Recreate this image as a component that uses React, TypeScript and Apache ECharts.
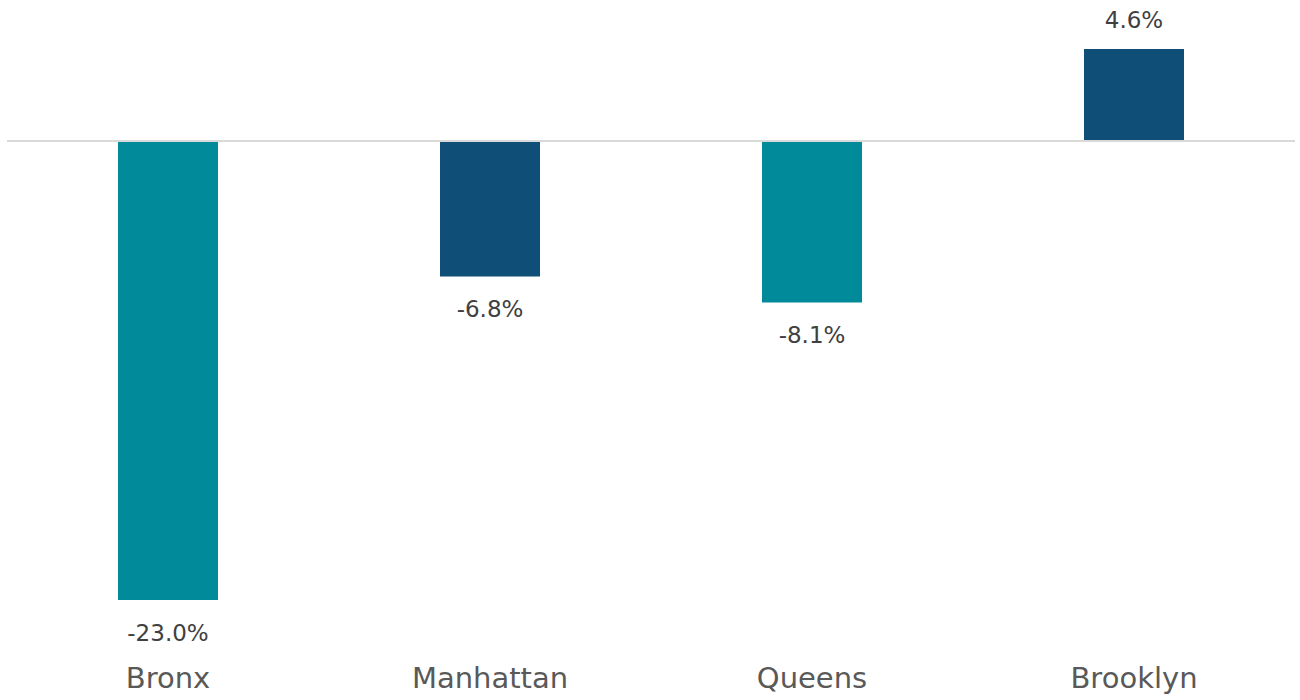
import React, { useEffect, useRef } from "react";
import * as echarts from "echarts";

const categories = ["Bronx", "Manhattan", "Queens", "Brooklyn"];
const values = [-23.0, -6.8, -8.1, 4.6];
const barColors = ["#008A9A", "#0F4E76", "#008A9A", "#0F4E76"];

export default function App() {
  const ref = useRef<HTMLDivElement>(null);
  useEffect(() => {
    if (!ref.current) return;
    const chart = echarts.init(ref.current, null, { renderer: "svg" });
    const font = "'DejaVu Sans', 'Liberation Sans', sans-serif";
    chart.setOption({
      animation: false,
      grid: { left: 7, right: 5, top: 41, bottom: 60, containLabel: false },
      xAxis: {
        type: "category",
        data: categories,
        position: "bottom",
        axisLine: { show: false },
        axisTick: { show: false },
        axisLabel: { color: "#595959", fontSize: 29, fontFamily: font, margin: 23 },
      },
      yAxis: {
        type: "value",
        min: -25,
        max: 5,
        show: false,
        splitLine: { show: false },
      },
      series: [
        {
          type: "bar",
          barWidth: 100,
          data: values.map((v, i) => ({
            value: v,
            itemStyle: { color: barColors[i] },
            label: { position: v < 0 ? "bottom" : "top", distance: v < 0 ? 21 : 17 },
          })),
          label: {
            show: true,
            color: "#404040",
            fontSize: 23,
            fontFamily: font,
            formatter: (p: any) => p.value.toFixed(1) + "%",
          },
          markLine: {
            silent: true,
            symbol: "none",
            label: { show: false },
            lineStyle: { color: "#D9D9D9", width: 2, type: "solid" },
            data: [{ yAxis: 0 }],
          },
        },
      ],
    });
    return () => chart.dispose();
  }, []);
  return (
    <div
      ref={ref}
      style={{ position: "fixed", left: 0, top: 0, width: 1300, height: 700, background: "#fff" }}
    />
  );
}
